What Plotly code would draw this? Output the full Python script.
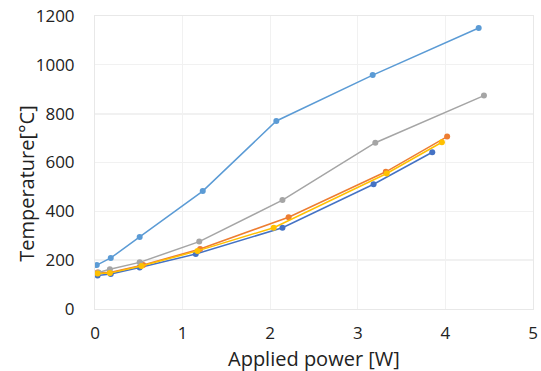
import plotly.graph_objects as go

blue_x = [0.03, 0.18, 0.51, 1.15, 2.14, 3.18, 3.85]
blue_y = [137, 143, 170, 225, 333, 511, 642]
orange_x = [0.03, 0.17, 0.55, 1.20, 2.21, 3.32, 4.02]
orange_y = [150, 150, 180, 246, 376, 562, 706]
gray_x = [0.04, 0.17, 0.51, 1.19, 2.14, 3.20, 4.44]
gray_y = [150, 163, 191, 276, 446, 681, 874]
yellow_x = [0.03, 0.17, 0.53, 1.17, 2.04, 3.33, 3.96]
yellow_y = [145, 147, 176, 238, 333, 555, 683]
lblue_x = [0.02, 0.18, 0.51, 1.23, 2.07, 3.17, 4.38]
lblue_y = [180, 209, 295, 483, 770, 958, 1151]

x_title = "Applied power [W]"
y_title = "Temperature[°C]"

series = [
    (blue_x, blue_y, "#4472c4"),
    (orange_x, orange_y, "#ed7d31"),
    (gray_x, gray_y, "#a5a5a5"),
    (yellow_x, yellow_y, "#ffc000"),
    (lblue_x, lblue_y, "#5b9bd5"),
]

fig = go.Figure()
for xs, ys, c in series:
    fig.add_trace(go.Scatter(x=xs, y=ys, mode="lines+markers",
                             line=dict(color=c, width=1.5),
                             marker=dict(color=c, size=6),
                             showlegend=False))

font_family = "Open Sans, Liberation Sans, sans-serif"
# slightly darker grid lines as in the reference
for yv in [200, 800]:
    fig.add_shape(type="line", xref="paper", x0=0, x1=1, yref="y", y0=yv, y1=yv,
                  line=dict(color="#e3e3e3", width=1.5), layer="below")

fig.update_layout(
    width=541, height=371,
    margin=dict(l=95, r=8, t=16, b=62),
    paper_bgcolor="white", plot_bgcolor="white",
    font=dict(family=font_family, color="#222222"),
    xaxis=dict(range=[0, 5], dtick=1, tick0=0, showgrid=True, gridcolor="#f1f1f1",
               gridwidth=1, zeroline=False, showline=True, linecolor="#e8e8e8",
               mirror=True, ticks="", tickfont=dict(size=17), automargin=False,
               ticklabelstandoff=9),
    yaxis=dict(range=[0, 1200], dtick=200, tick0=0, showgrid=True, gridcolor="#f1f1f1",
               gridwidth=1, zeroline=False, showline=True, linecolor="#e8e8e8",
               mirror=True, ticks="", tickfont=dict(size=17), automargin=False,
               ticklabelstandoff=16),
    annotations=[
        dict(text=x_title, xref="paper", yref="paper", x=0.5, y=-0.168,
             xanchor="center", yanchor="middle", showarrow=False,
             font=dict(size=20)),
        dict(text=y_title, xref="paper", yref="paper", x=-0.158, y=0.43,
             xanchor="center", yanchor="middle", showarrow=False, textangle=-90,
             font=dict(size=20)),
    ],
)

fig.write_html("out.html")
